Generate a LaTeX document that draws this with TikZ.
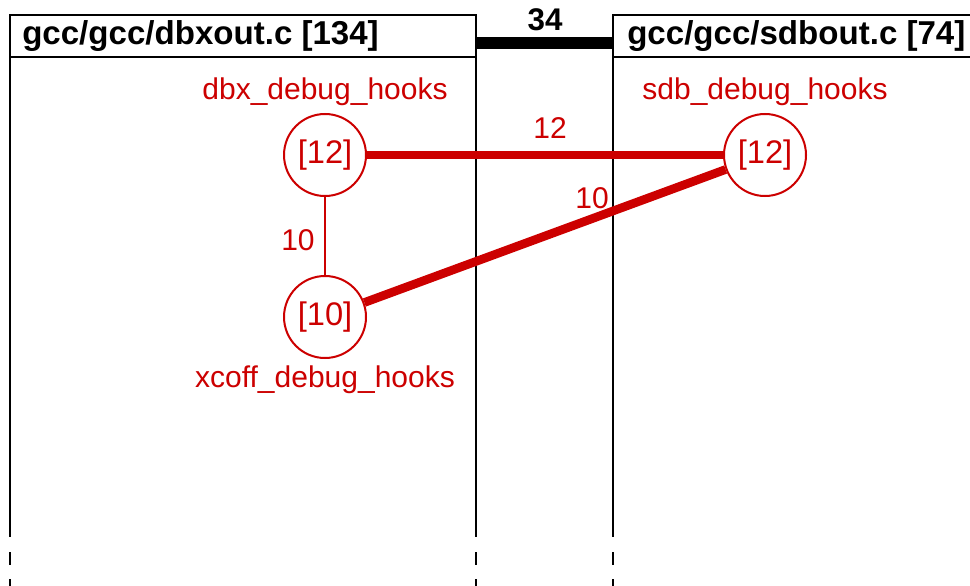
\documentclass[tikz,border=0pt]{standalone}
\usepackage{fontspec}
\setmainfont{Liberation Sans}
\usetikzlibrary{positioning}
\definecolor{hookred}{RGB}{204,0,0}
\newcommand\rd{61.5pt}
\newcommand\lw{1.5pt}

\tikzset{
  headtext/.style={font=\fontsize{24.8}{28}\selectfont\bfseries, inner sep=0pt, anchor=west},
  hook/.style={draw=hookred, text=hookred, circle, line width=\lw, minimum size=\rd, inner sep=0pt,
    font=\fontsize{24.5}{28}\selectfont},
  hookname/.style={text=hookred, inner sep=0pt, font=\fontsize{22.5}{27}\selectfont},
  dep/.style={draw=hookred, line width=6.5pt},
  thindep/.style={draw=hookred, line width=\lw},
  deplabel/.style={text=hookred, inner sep=0pt, font=\fontsize{22.5}{27}\selectfont},
  fileline/.style={line width=\lw},
  filetail/.style={line width=\lw, dash pattern=on 9.75pt off 10.5pt}
}

\begin{document}
\begin{tikzpicture}[x=0.75pt, y=-0.75pt]
    \clip (0,0) rectangle (970,585);

    % left file: dbxout.c
    \draw[fileline] (10,15) rectangle (476,57);
    \node (dbxfile) [headtext] at (22,36) {gcc/gcc/dbxout.c [134]};
    \draw[fileline] (10,57) -- (10,537);
    \draw[fileline] (476,57) -- (476,537);
    \draw[filetail] (10,552) -- (10,590);
    \draw[filetail] (476,552) -- (476,590);

    % right file: sdbout.c
    \draw[fileline] (613,15) rectangle (990,57);
    \node (sdbfile) [headtext] at (627,36) {gcc/gcc/sdbout.c [74]};
    \draw[fileline] (613,57) -- (613,537);
    \draw[filetail] (613,552) -- (613,590);

    % file to file weight
    \coordinate (lb) at (476,43);
    \coordinate (rb) at (613,43);
    \draw[line width=9pt] (lb) -- (rb);
    \node (filew) [font=\fontsize{23.5}{27}\selectfont\bfseries, inner sep=0pt] at (545,20) {34};

    % hook structures
    \node (dbx) [hook] at (325,155) {[12]};
    \node (xcoff) [hook] at (325,317) {[10]};
    \node (sdb) [hook] at (765,155) {[12]};

    \node (dbxname) [hookname, above=5pt of dbx] {dbx\_debug\_hooks};
    \node (sdbname) [hookname, above=5pt of sdb] {sdb\_debug\_hooks};
    \node (xcoffname) [hookname, below=5pt of xcoff] {xcoff\_debug\_hooks};

    \draw[dep] (dbx) -- (sdb);
    \draw[dep] (xcoff) -- (sdb);
    \draw[thindep] (dbx) -- (xcoff);

    \node (w1) [deplabel] at (550,128) {12};
    \node (w2) [deplabel] at (592,198) {10};
    \node (w3) [deplabel] at (298,240) {10};

\end{tikzpicture}
\end{document}
